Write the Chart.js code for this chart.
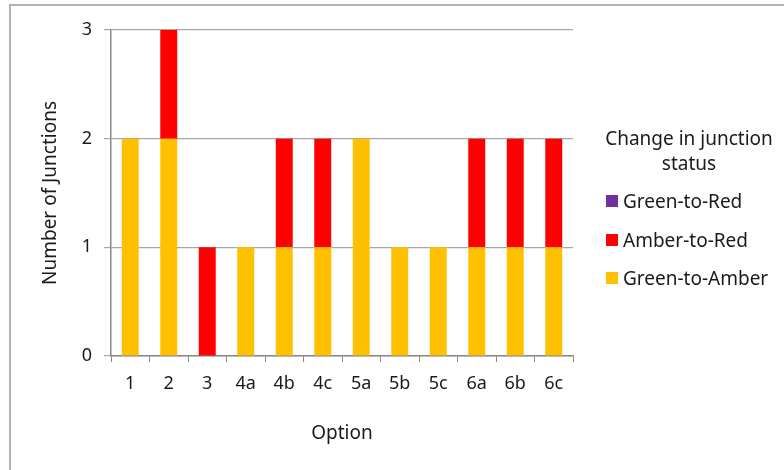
<!DOCTYPE html>
<html>
<head>
<meta charset="utf-8">
<script src="https://cdn.jsdelivr.net/npm/chart.js@4.4.1/dist/chart.umd.min.js"></script>
<style>
  body { margin: 0; background: #fff; font-family: "Noto Sans", sans-serif; }
  #wrap { position: relative; width: 784px; height: 470px; overflow: hidden; }
  #frame { position: absolute; left: 9px; top: 4px; width: 800px; height: 500px; border: 2px solid #b3b3b3; box-sizing: border-box; }
  canvas { position: absolute; left: 0; top: 0; }
  #legend { position: absolute; left: 601px; top: 126px; width: 176px; color: #1a1a1a; font-size: 19px; }
  #legend .title { text-align: center; line-height: 25px; white-space: nowrap; }
  #legend .item { display: flex; align-items: center; height: 38.5px; padding-left: 5px; white-space: nowrap; }
  #legend .item span.box { width: 12px; height: 12px; margin-right: 5px; flex: none; }
</style>
</head>
<body>
<div id="wrap">
  <div id="frame"></div>
  <canvas id="chart" width="784" height="470"></canvas>
  <div id="legend"></div>
</div>
<script>
const options = ["1", "2", "3", "4a", "4b", "4c", "5a", "5b", "5c", "6a", "6b", "6c"];
const greenToAmber = [2, 2, 0, 1, 1, 1, 2, 1, 1, 1, 1, 1];
const amberToRed = [0, 1, 1, 0, 1, 1, 0, 0, 0, 1, 1, 1];
const greenToRed = [0, 0, 0, 0, 0, 0, 0, 0, 0, 0, 0, 0];
const yTicks = [0, 1, 2, 3];

const datasets = [
  { label: "Green-to-Amber", data: greenToAmber, backgroundColor: "#FFC000" },
  { label: "Amber-to-Red", data: amberToRed, backgroundColor: "#FF0000" },
  { label: "Green-to-Red", data: greenToRed, backgroundColor: "#7030A0" },
];

const tickFont = { family: "Noto Sans", size: 18 };
const titleFont = { family: "Noto Sans", size: 19 };

const chart = new Chart(document.getElementById("chart"), {
  type: "bar",
  data: {
    labels: options,
    datasets: datasets.map((d) => ({ ...d, barPercentage: 0.44, categoryPercentage: 1, borderWidth: 0 })),
  },
  options: {
    responsive: false,
    animation: false,
    layout: { padding: { top: 30, right: 211, left: 0, bottom: 0 } },
    plugins: { legend: { display: false }, tooltip: { enabled: false } },
    scales: {
      x: {
        stacked: true,
        grid: { offset: true, drawOnChartArea: false, color: "#888", tickLength: 6, lineWidth: 1 },
        border: { color: "#888", width: 1.5 },
        ticks: { color: "#1a1a1a", font: tickFont, padding: 11, maxRotation: 0 },
        title: { display: true, text: "Option", color: "#1a1a1a", font: titleFont, padding: { top: 0, bottom: 25 } },
        afterFit: (scale) => { scale.height = 114; },
      },
      y: {
        stacked: true,
        min: 0,
        max: 3,
        afterBuildTicks: (scale) => { scale.ticks = yTicks.map((v) => ({ value: v })); },
        grid: { color: "#a6a6a6", tickLength: 7, lineWidth: 1.2 },
        border: { color: "#888", width: 1.5 },
        ticks: { color: "#1a1a1a", font: tickFont, padding: 12 },
        title: { display: true, text: "Number of Junctions", color: "#1a1a1a", font: titleFont, padding: { top: 39, bottom: 0 } },
        afterFit: (scale) => { scale.width = 111; },
      },
    },
  },
});

// legend built from the datasets, top entry is last series like the original
const legendEl = document.getElementById("legend");
legendEl.innerHTML = `<div class="title">Change in junction<br>status</div><div style="height:6px"></div>`;
[...datasets].reverse().forEach((d) => {
  const item = document.createElement("div");
  item.className = "item";
  item.innerHTML = `<span class="box" style="background:${d.backgroundColor}"></span>${d.label}`;
  legendEl.appendChild(item);
});
</script>
</body>
</html>
